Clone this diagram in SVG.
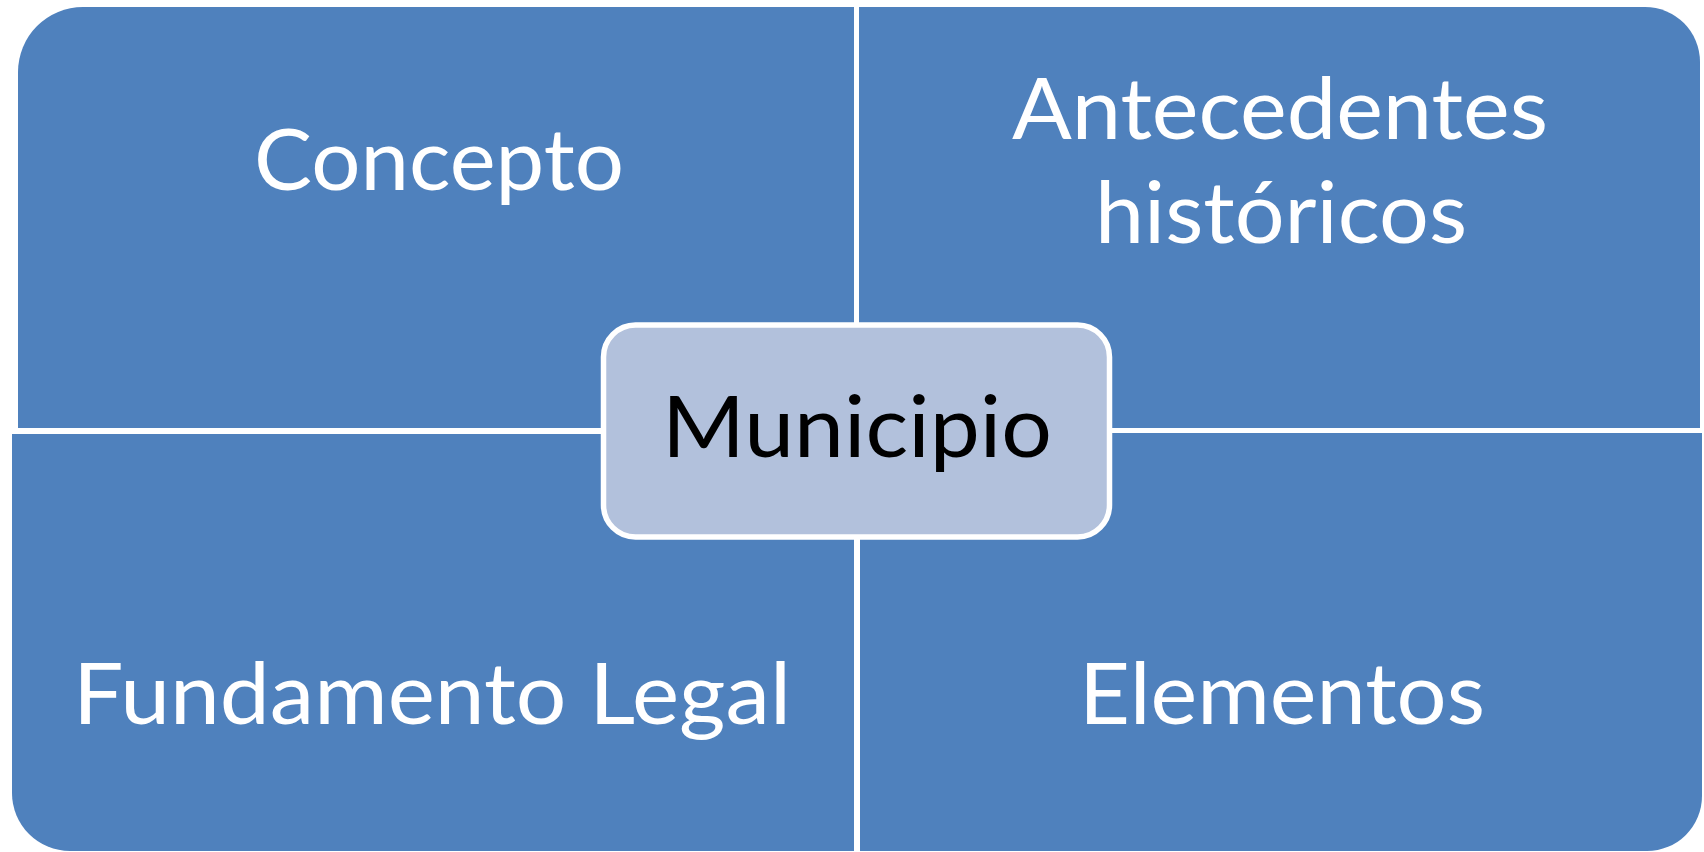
<svg xmlns="http://www.w3.org/2000/svg" width="1704" height="852" viewBox="0 0 1704 852">
  <style>
    .quad { fill: #4F81BD; }
    .lbl { font-family: "Lato", "Open Sans", "Liberation Sans", sans-serif; font-size: 86px; fill: #FFFFFF; text-anchor: middle; }
    .center { fill: #B2C1DC; stroke: #FFFFFF; stroke-width: 5.5; }
    .clbl { font-family: "Lato", "Open Sans", "Liberation Sans", sans-serif; font-size: 86px; fill: #000000; text-anchor: middle; }
  </style>
  <rect width="1704" height="852" fill="#FFFFFF"/>
  <g id="concepto">
    <path class="quad" d="M18,72 A65,65 0 0 1 83,7 L854,7 L854,428 L18,428 Z"/>
    <text class="lbl" x="439" y="190" textLength="370" lengthAdjust="spacingAndGlyphs">Concepto</text>
  </g>
  <g id="antecedentes">
    <path class="quad" d="M859,7 L1645,7 A55,55 0 0 1 1700,62 L1700,428 L859,428 Z"/>
    <text class="lbl" x="1280" y="139" textLength="536" lengthAdjust="spacingAndGlyphs">Antecedentes</text>
    <text class="lbl" x="1281" y="243" textLength="372" lengthAdjust="spacingAndGlyphs">históricos</text>
  </g>
  <g id="fundamento">
    <path class="quad" d="M12,434 L854,434 L854,851 L70,851 A58,58 0 0 1 12,793 Z"/>
    <text class="lbl" x="432" y="724" textLength="718" lengthAdjust="spacingAndGlyphs">Fundamento Legal</text>
  </g>
  <g id="elementos">
    <path class="quad" d="M860,433 L1702,433 L1702,796 A55,55 0 0 1 1647,851 L860,851 Z"/>
    <text class="lbl" x="1282" y="724" textLength="406" lengthAdjust="spacingAndGlyphs">Elementos</text>
  </g>
  <g id="municipio">
    <rect class="center" x="603.5" y="325" width="506" height="212" rx="32" ry="32"/>
    <text class="clbl" x="857" y="457" textLength="390" lengthAdjust="spacingAndGlyphs">Municipio</text>
  </g>
</svg>
